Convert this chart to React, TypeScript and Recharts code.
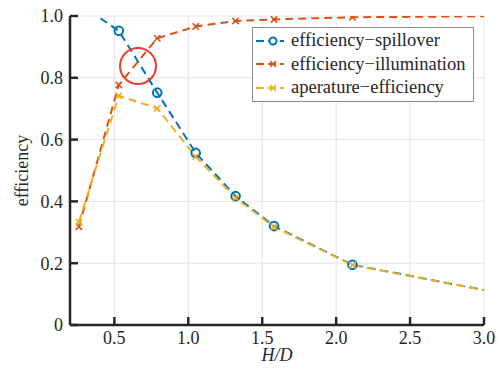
import React from "react";
import {
  LineChart,
  Line,
  XAxis,
  YAxis,
  CartesianGrid,
  Legend,
  ReferenceDot,
} from "recharts";

const hd = [0.26, 0.53, 0.79, 1.05, 1.32, 1.58, 2.11, 3.0];
const spillover = [1.04, 0.952, 0.752, 0.557, 0.417, 0.32, 0.195, 0.113];
const illumination = [0.318, 0.777, 0.928, 0.966, 0.984, 0.989, 0.996, 0.999];
const aperture = [0.333, 0.742, 0.701, 0.545, 0.411, 0.317, 0.194, 0.113];
const hasMarker = [true, true, true, true, true, true, true, false];

const xTicks = [0.5, 1.0, 1.5, 2.0, 2.5, 3.0];
const yTicks = [0, 0.2, 0.4, 0.6, 0.8, 1.0];

const rows = hd.map((x, i) => ({
  hd: x,
  spill: spillover[i],
  illum: illumination[i],
  aper: aperture[i],
}));

const BLUE = "#0072BD";
const ORANGE = "#D95319";
const YELLOW = "#EDB120";
const FONT = "Liberation Serif, Times New Roman, serif";
const INK = "#262626";

const series = [
  { key: "spill", name: "efficiency\u2212spillover", color: BLUE, marker: "o" },
  { key: "illum", name: "efficiency\u2212illumination", color: ORANGE, marker: "x" },
  { key: "aper", name: "aperature\u2212efficiency", color: YELLOW, marker: "x" },
];

function makeDot(color: string, marker: string, skipFirst = false) {
  return (props: any) => {
    const { cx, cy, index } = props;
    if (!hasMarker[index] || (skipFirst && index === 0) || cx == null || cy == null) {
      return <g key={`n-${index}`} />;
    }
    if (marker === "o") {
      return (
        <circle key={`o-${index}`} cx={cx} cy={cy} r={4.3} fill="none" stroke={color} strokeWidth={2} />
      );
    }
    const s = 3.2;
    return (
      <g key={`x-${index}`} stroke={color} strokeWidth={1.6}>
        <line x1={cx - s} y1={cy - s} x2={cx + s} y2={cy + s} />
        <line x1={cx - s} y1={cy + s} x2={cx + s} y2={cy - s} />
      </g>
    );
  };
}

function LegendBox() {
  return (
    <div
      style={{
        border: "1px solid #8c8c8c",
        background: "#fff",
        width: 220,
        padding: "1px 0",
        fontFamily: FONT,
        fontSize: 18.5,
        color: INK,
      }}
    >
      {series.map((s) => (
        <div key={s.key} style={{ display: "flex", alignItems: "center", height: 23.5 }}>
          <svg width={36} height={14} style={{ marginLeft: 2 }}>
            <line x1={1} y1={7} x2={29} y2={7} stroke={s.color} strokeWidth={2} strokeDasharray="8 4" />
            {s.marker === "o" ? (
              <circle cx={18} cy={7} r={3.5} fill="#fff" stroke={s.color} strokeWidth={2} />
            ) : (
              <g stroke={s.color} strokeWidth={1.6}>
                <line x1={15} y1={4} x2={21} y2={10} />
                <line x1={15} y1={10} x2={21} y2={4} />
              </g>
            )}
          </svg>
          <span style={{ whiteSpace: "nowrap" }}>{s.name}</span>
        </div>
      ))}
    </div>
  );
}

const tickStyle = { fontFamily: FONT, fontSize: 18, fill: INK };

export default function App() {
  return (
    <div style={{ position: "absolute", left: 0, top: 0, fontFamily: FONT }}>
      <LineChart
        width={501}
        height={370}
        data={rows}
        margin={{ top: 16, right: 17, bottom: 15, left: 30 }}
        style={{ fontFamily: FONT }}
      >
        <CartesianGrid stroke="#e4e4e4" strokeWidth={1} />
        <XAxis
          dataKey="hd"
          type="number"
          domain={[0.2, 3.0]}
          ticks={xTicks}
          interval={0}
          tickFormatter={(v: number) => v.toFixed(1)}
          tick={tickStyle}
          tickSize={-8}
          tickMargin={14}
          height={30}
          axisLine={{ stroke: INK, strokeWidth: 2.5 }}
          tickLine={{ stroke: INK, strokeWidth: 2.5 }}
          label={{
            content: (p: any) => {
              const vb = p.viewBox || {};
              return (
                <text
                  x={vb.x + vb.width / 2}
                  y={vb.y + 36}
                  textAnchor="middle"
                  fontFamily={FONT}
                  fontSize={18}
                  fontStyle="italic"
                  fill={INK}
                >
                  H/D
                </text>
              );
            },
          }}
        />
        <XAxis
          xAxisId="top"
          orientation="top"
          type="number"
          domain={[0.2, 3.0]}
          ticks={xTicks}
          interval={0}
          tick={false}
          tickSize={-8}
          height={0}
          axisLine={{ stroke: INK, strokeWidth: 2.5 }}
          tickLine={{ stroke: INK, strokeWidth: 2.5 }}
        />
        <YAxis
          type="number"
          domain={[0, 1]}
          allowDataOverflow
          ticks={yTicks}
          interval={0}
          tickFormatter={(v: number) => (v === 0 ? "0" : v.toFixed(1))}
          tick={tickStyle}
          tickSize={-8}
          tickMargin={15}
          width={40}
          axisLine={{ stroke: INK, strokeWidth: 2.5 }}
          tickLine={{ stroke: INK, strokeWidth: 2.5 }}
          label={{
            content: (p: any) => {
              const vb = p.viewBox || {};
              const x = 22;
              const y = vb.y + vb.height / 2;
              return (
                <text
                  x={x}
                  y={y}
                  transform={`rotate(-90 ${x} ${y})`}
                  textAnchor="middle"
                  dominantBaseline="central"
                  fontFamily={FONT}
                  fontSize={18}
                  fill={INK}
                >
                  efficiency
                </text>
              );
            },
          }}
        />
        <YAxis
          yAxisId="right"
          orientation="right"
          type="number"
          domain={[0, 1]}
          ticks={yTicks}
          interval={0}
          tick={false}
          tickSize={-8}
          width={0}
          axisLine={{ stroke: INK, strokeWidth: 2.5 }}
          tickLine={{ stroke: INK, strokeWidth: 2.5 }}
        />
        <Line
          dataKey="spill"
          stroke={BLUE}
          strokeWidth={2}
          strokeDasharray="8 5"
          dot={makeDot(BLUE, "o", true)}
          isAnimationActive={false}
        />
        <Line
          dataKey="illum"
          stroke={ORANGE}
          strokeWidth={2}
          strokeDasharray="8 5"
          dot={makeDot(ORANGE, "x")}
          isAnimationActive={false}
        />
        <Line
          dataKey="aper"
          stroke={YELLOW}
          strokeWidth={2}
          strokeDasharray="8 5"
          dot={makeDot(YELLOW, "x")}
          isAnimationActive={false}
        />
        <ReferenceDot
          x={0.66}
          y={0.838}
          r={18}
          fill="none"
          stroke="#E8402A"
          strokeWidth={2}
        />
        <Legend
          layout="vertical"
          align="center"
          verticalAlign="middle"
          content={() => <LegendBox />}
          wrapperStyle={{ left: 252, top: 27, width: 222 }}
        />
      </LineChart>
    </div>
  );
}
